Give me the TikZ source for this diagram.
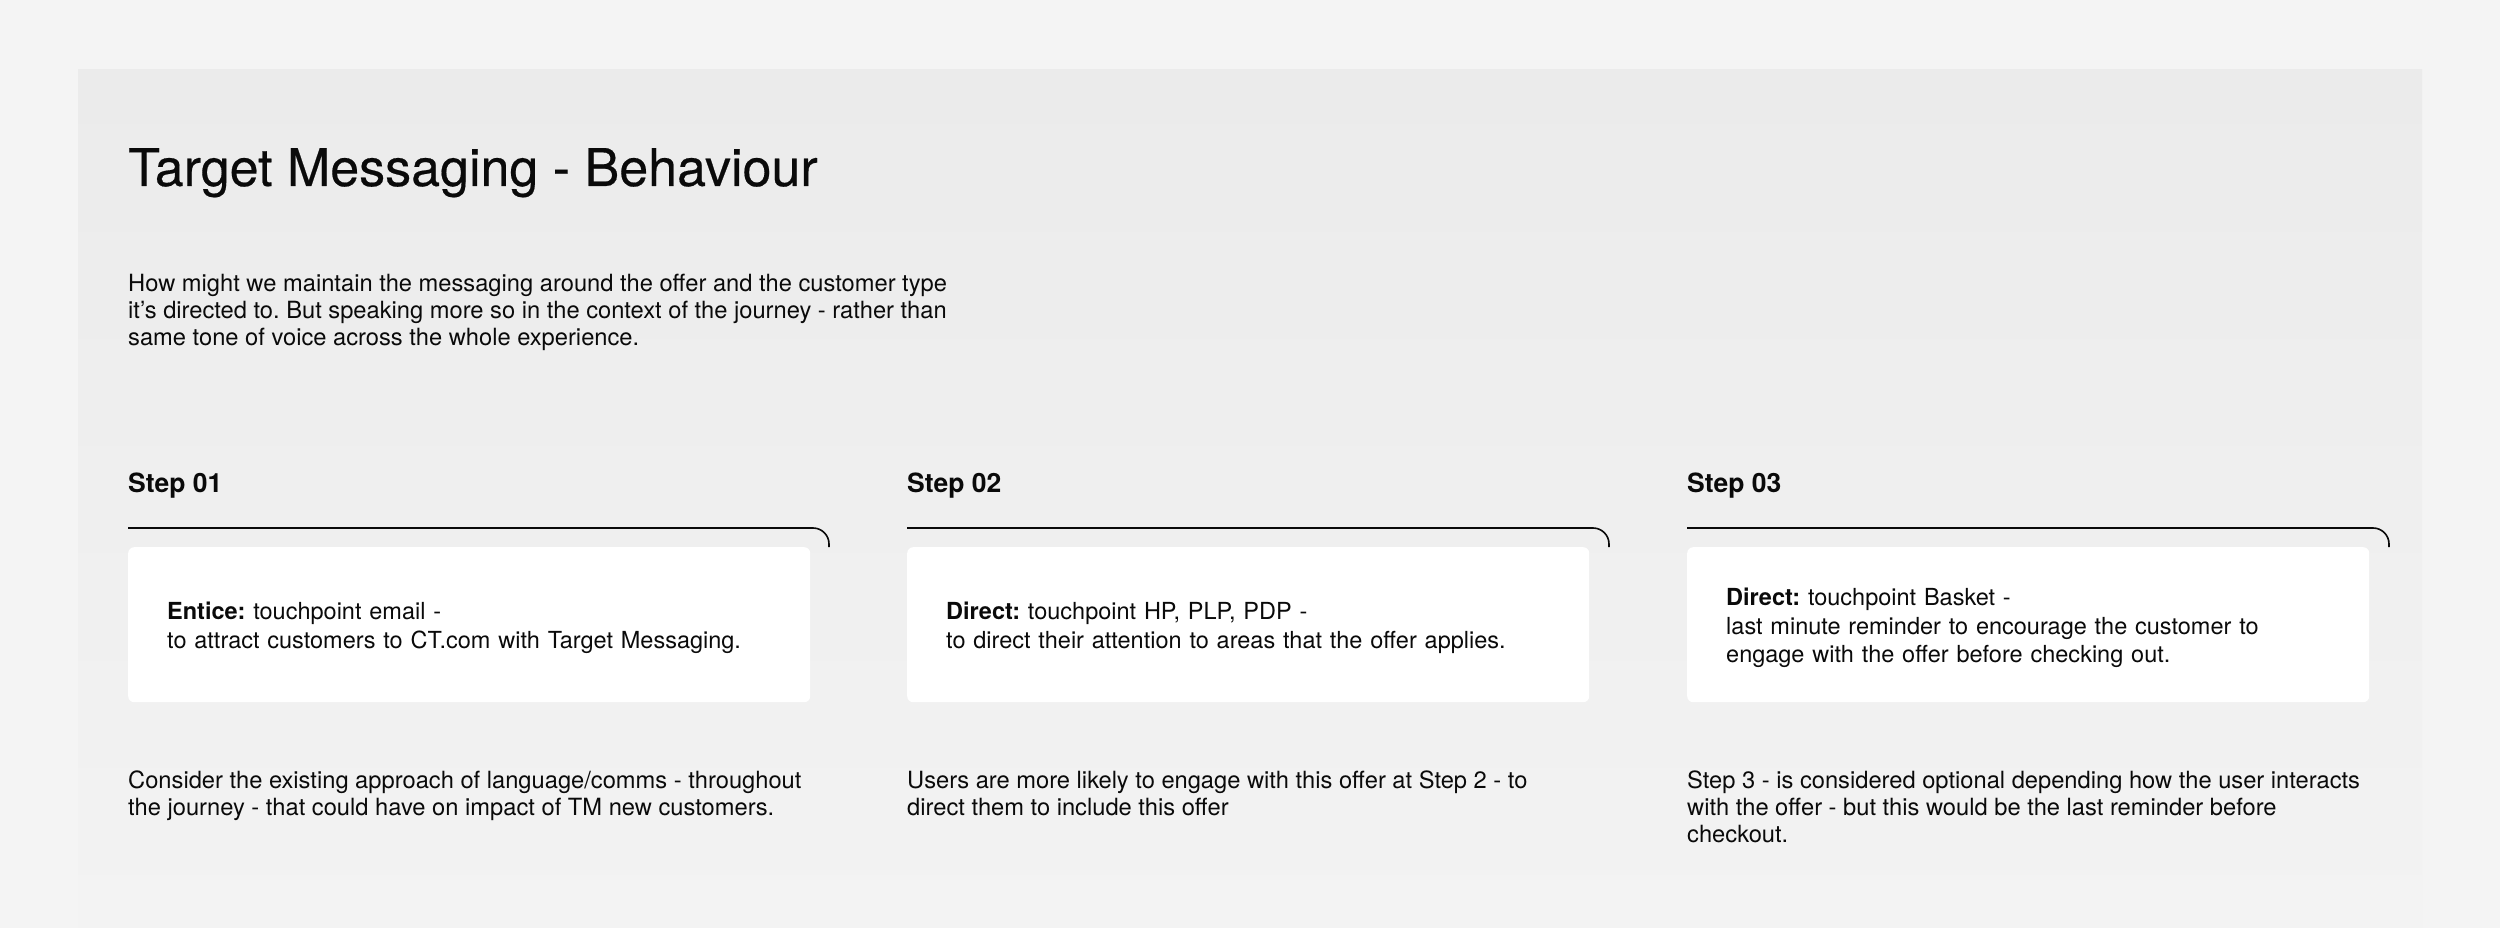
\documentclass[tikz,border=0pt]{standalone}
\usepackage{fontspec}
\setmainfont{TeX Gyre Heros}
\newfontfamily\headfont[FakeBold=0.35]{TeX Gyre Heros}
\frenchspacing

\definecolor{pagebg}{RGB}{244,244,244}
\definecolor{paneltop}{RGB}{235,235,235}
\definecolor{panelbot}{RGB}{243,243,243}
\definecolor{ink}{RGB}{10,10,10}

% tikz fits a shading's middle half (25bp to 75bp) to the path
\pgfdeclareverticalshading{panelshade}{100bp}{color(0bp)=(panelbot); color(25bp)=(panelbot); color(75bp)=(paneltop); color(100bp)=(paneltop)}

% raises the first line of a card so its text sits a little lower
\newcommand{\cardlead}{\rule{0pt}{24pt}}

\tikzset{
    titletext/.style={anchor=base west, inner sep=0pt, text=ink, font=\headfont\fontsize{52}{60}\selectfont},
    bodytext/.style={anchor=base west, inner sep=0pt, align=left, text=ink, font=\fontsize{23.7}{27}\selectfont},
    steptitle/.style={anchor=base west, inner sep=0pt, text=ink, font=\fontsize{26.5}{30}\selectfont\bfseries},
    card/.style={anchor=north west, fill=white, rounded corners=6pt, minimum height=155pt, text width=604pt, inner xsep=39pt, inner ysep=0pt, align=left, text=ink, font=\fontsize{23.5}{28.5}\selectfont},
    stepline/.style={draw=ink, line width=1.6pt, rounded corners=16pt},
}

\begin{document}
\begin{tikzpicture}[x=1pt, y=-1pt]
    \useasboundingbox (0, 0) rectangle (2500, 928);
    \fill[pagebg] (0, 0) rectangle (2500, 928);
    % panel, drawn with y pointing up so the shading keeps its sense
    \begin{scope}[y=1pt]
        \shade[shading=panelshade] (78, -928) rectangle (2422, -70);
    \end{scope}

    % heading
    \node[titletext] (title) at (128, 186) {Target Messaging - Behaviour};
    \node[bodytext] (intro) at (128, 345) {How might we maintain the messaging around the offer and the customer type\\it’s directed to. But speaking more so in the context of the journey - rather than\\same tone of voice across the whole experience.};

    % step 01
    \node[steptitle] (step1) at (128, 492) {Step 01};
    \coordinate (line1a) at (128, 528);
    \coordinate (line1b) at (829, 547);
    \draw[stepline] (line1a) -| (line1b);
    \node[card] (card1) at (128, 547) {\cardlead\textbf{Entice:} touchpoint email -\\to attract customers to CT.com with Target Messaging.};
    \node[bodytext] (note1) at (128, 815) {Consider the existing approach of language/comms - throughout\\the journey - that could have on impact of TM new customers.};

    % step 02
    \node[steptitle] (step2) at (907, 492) {Step 02};
    \coordinate (line2a) at (907, 528);
    \coordinate (line2b) at (1609, 547);
    \draw[stepline] (line2a) -| (line2b);
    \node[card] (card2) at (907, 547) {\cardlead\textbf{Direct:} touchpoint HP, PLP, PDP -\\to direct their attention to areas that the offer applies.};
    \node[bodytext] (note2) at (907, 815) {Users are more likely to engage with this offer at Step 2 - to\\direct them to include this offer};

    % step 03
    \node[steptitle] (step3) at (1687, 492) {Step 03};
    \coordinate (line3a) at (1687, 528);
    \coordinate (line3b) at (2389, 547);
    \draw[stepline] (line3a) -| (line3b);
    \node[card] (card3) at (1687, 547) {\cardlead\textbf{Direct:} touchpoint Basket -\\last minute reminder to encourage the customer to\\engage with the offer before checking out.};
    \node[bodytext] (note3) at (1687, 842) {Step 3 - is considered optional depending how the user interacts\\with the offer - but this would be the last reminder before\\checkout.};
\end{tikzpicture}
\end{document}
